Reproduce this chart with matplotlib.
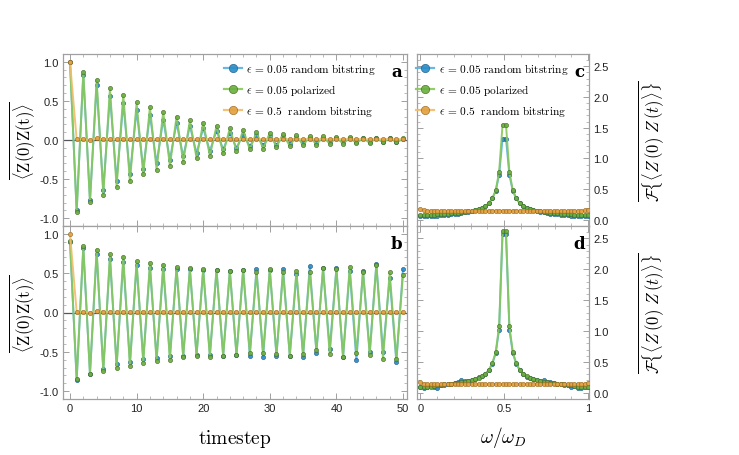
import matplotlib
matplotlib.use('Agg')
import matplotlib.pyplot as plt
import numpy as np
from matplotlib.ticker import MultipleLocator, FixedLocator, FormatStrFormatter

plt.rcParams['font.family'] = ['Liberation Sans', 'DejaVu Sans']
plt.rcParams['mathtext.fontset'] = 'cm'

# time series data
t = np.arange(51)

a_blue = [1.0, -0.90, 0.83, -0.77, 0.70, -0.635, 0.56, -0.52, 0.47, -0.44, 0.38, -0.365, 0.32,
          -0.30, 0.26, -0.25, 0.22, -0.21, 0.18, -0.17, 0.15, -0.14, 0.12, -0.12, 0.09, -0.10,
          0.07, -0.08, 0.06, -0.07, 0.05, -0.06, 0.05, -0.05, 0.04, -0.04, 0.03, -0.04, 0.03,
          -0.03, 0.02, -0.03, 0.02, -0.03, 0.02, -0.02, 0.02, -0.02, 0.02, -0.02, 0.01]
a_green = [1.0, -0.92, 0.87, -0.79, 0.77, -0.70, 0.66, -0.60, 0.58, -0.53, 0.48, -0.44, 0.42,
           -0.38, 0.36, -0.33, 0.30, -0.28, 0.25, -0.23, 0.22, -0.20, 0.18, -0.17, 0.15, -0.14,
           0.13, -0.12, 0.10, -0.11, 0.09, -0.09, 0.08, -0.08, 0.06, -0.07, 0.05, -0.06, 0.05,
           -0.05, 0.04, -0.05, 0.04, -0.04, 0.03, -0.04, 0.03, -0.03, 0.03, -0.03, 0.02]
a_orange = [1.0, 0.01, 0.01, 0.0, 0.02, 0.01, 0.01, 0.01, 0.01, 0.01, 0.01, 0.01, 0.01, 0.01,
            0.01, 0.01, 0.01, 0.01, 0.01, 0.01, 0.01, 0.01, 0.01, 0.01, 0.01, 0.01, 0.01, 0.01,
            0.01, 0.01, 0.01, 0.01, 0.01, 0.01, 0.01, 0.01, 0.01, 0.01, 0.01, 0.01, 0.01, 0.01,
            0.01, 0.01, 0.01, 0.01, 0.01, 0.01, 0.01, 0.01, 0.01]

b_blue = [0.90, -0.86, 0.82, -0.78, 0.75, -0.72, 0.68, -0.66, 0.64, -0.63, 0.60, -0.59, 0.57,
          -0.58, 0.55, -0.55, 0.55, -0.55, 0.55, -0.54, 0.54, -0.54, 0.54, -0.55, 0.53, -0.54,
          0.54, -0.55, 0.55, -0.56, 0.54, -0.55, 0.55, -0.55, 0.49, -0.56, 0.59, -0.51, 0.56,
          -0.46, 0.56, -0.57, 0.53, -0.61, 0.53, -0.50, 0.62, -0.50, 0.44, -0.63, 0.55]
b_green = [0.91, -0.84, 0.84, -0.78, 0.80, -0.75, 0.74, -0.70, 0.71, -0.68, 0.65, -0.64, 0.63,
           -0.62, 0.61, -0.60, 0.58, -0.57, 0.56, -0.55, 0.55, -0.56, 0.54, -0.55, 0.53, -0.54,
           0.54, -0.51, 0.51, -0.51, 0.55, -0.53, 0.51, -0.55, 0.53, -0.53, 0.52, -0.48, 0.56,
           -0.53, 0.55, -0.56, 0.58, -0.52, 0.52, -0.54, 0.60, -0.59, 0.51, -0.59, 0.48]
b_orange = a_orange

# spectra data
freq = np.arange(50) / 49

c_green = [0.08, 0.08, 0.08, 0.085, 0.085, 0.09, 0.09, 0.095, 0.10, 0.105, 0.11, 0.115, 0.12,
           0.13, 0.14, 0.15, 0.165, 0.18, 0.20, 0.23, 0.27, 0.35, 0.48, 0.78, 1.55,
           1.55, 0.78, 0.48, 0.35, 0.27, 0.23, 0.20, 0.18, 0.165, 0.15, 0.14, 0.13, 0.12,
           0.115, 0.11, 0.105, 0.10, 0.095, 0.09, 0.09, 0.085, 0.085, 0.08, 0.08, 0.08]
c_blue = [0.06, 0.06, 0.065, 0.065, 0.07, 0.07, 0.075, 0.08, 0.085, 0.09, 0.095, 0.10, 0.11,
          0.12, 0.13, 0.14, 0.155, 0.17, 0.19, 0.22, 0.27, 0.35, 0.47, 0.73, 1.32,
          1.32, 0.73, 0.47, 0.35, 0.27, 0.22, 0.19, 0.17, 0.155, 0.14, 0.13, 0.12, 0.11,
          0.10, 0.095, 0.09, 0.085, 0.08, 0.075, 0.07, 0.07, 0.065, 0.065, 0.06, 0.06]
c_orange = [0.17, 0.155, 0.15, 0.15, 0.15, 0.148, 0.148, 0.148, 0.148, 0.148, 0.148, 0.148,
            0.148, 0.148, 0.148, 0.148, 0.148, 0.148, 0.148, 0.148, 0.148, 0.148, 0.148, 0.148,
            0.148, 0.148, 0.148, 0.148, 0.148, 0.148, 0.148, 0.148, 0.148, 0.148, 0.148, 0.148,
            0.148, 0.148, 0.148, 0.148, 0.148, 0.148, 0.148, 0.148, 0.15, 0.15, 0.15, 0.15,
            0.155, 0.165]

d_green = [0.10, 0.09, 0.09, 0.10, 0.11, 0.12, 0.13, 0.14, 0.145, 0.15, 0.155, 0.16, 0.17,
           0.18, 0.19, 0.20, 0.23, 0.24, 0.28, 0.31, 0.37, 0.475, 0.66, 1.08, 2.62,
           2.62, 1.08, 0.66, 0.475, 0.37, 0.30, 0.28, 0.24, 0.22, 0.20, 0.19, 0.18, 0.17,
           0.16, 0.16, 0.15, 0.145, 0.14, 0.13, 0.12, 0.11, 0.09, 0.09, 0.10, 0.10]
d_blue = [0.09, 0.08, 0.09, 0.11, 0.10, 0.07, 0.12, 0.13, 0.14, 0.15, 0.16, 0.17, 0.20,
          0.19, 0.19, 0.21, 0.22, 0.25, 0.27, 0.31, 0.37, 0.47, 0.64, 1.02, 2.57,
          2.57, 1.02, 0.64, 0.47, 0.37, 0.31, 0.26, 0.24, 0.23, 0.20, 0.19, 0.20, 0.17,
          0.18, 0.16, 0.15, 0.14, 0.13, 0.12, 0.10, 0.11, 0.07, 0.08, 0.10, 0.09]
d_orange = [0.17, 0.15, 0.145, 0.14, 0.14, 0.14, 0.14, 0.14, 0.14, 0.14, 0.14, 0.14, 0.14,
            0.14, 0.14, 0.14, 0.14, 0.14, 0.14, 0.14, 0.14, 0.14, 0.14, 0.14, 0.14, 0.14,
            0.14, 0.14, 0.14, 0.14, 0.14, 0.14, 0.14, 0.14, 0.14, 0.14, 0.14, 0.14, 0.14,
            0.14, 0.14, 0.14, 0.14, 0.14, 0.14, 0.14, 0.145, 0.15, 0.15, 0.16]

labels = [r'$\epsilon\,=\,0.05\ \mathrm{random\ bitstring}$',
          r'$\epsilon\,=\,0.05\ \mathrm{polarized}$',
          r'$\epsilon\,=\,0.5\ \ \mathrm{random\ bitstring}$']

# (line colour, marker face, marker edge)
styles = [('#5ab0e0', '#2b8cc8', '#1d5f8c'),
          ('#86c85a', '#6cae3f', '#456f23'),
          ('#f2bc68', '#e3a040', '#9a6a1e')]

frame_col = '#a0a0a0'

fig = plt.figure(figsize=(7.39, 4.56), dpi=100)
L1, W1 = 63 / 739, 344 / 739
L2, W2 = 417 / 739, 172 / 739
top, mid, bot = 1 - 55 / 456, 1 - 227 / 456, 1 - 400 / 456
ax_a = fig.add_axes([L1, mid, W1, top - mid])
ax_b = fig.add_axes([L1, bot, W1, mid - bot])
ax_c = fig.add_axes([L2, mid, W2, top - mid])
ax_d = fig.add_axes([L2, bot, W2, mid - bot])


def draw(ax, x, series):
    handles = []
    # orange at the back, then blue, green on top
    for i in [2, 0, 1]:
        lc, fc, ec = styles[i]
        h, = ax.plot(x, series[i], '-', color=lc, lw=1.4, alpha=0.9,
                     marker='o', ms=3.0, mfc=fc, mec=ec, mew=0.5, zorder=3 + i)
        handles.append((i, h))
    return [h for _, h in sorted(handles)]


def style_axes(ax):
    for sp in ax.spines.values():
        sp.set_color(frame_col)
        sp.set_linewidth(0.9)
    ax.tick_params(which='both', direction='in', color=frame_col, labelsize=8,
                   labelcolor='#222222', top=True, right=True, pad=3)
    ax.tick_params(which='major', length=4, width=0.7)
    ax.tick_params(which='minor', length=2, width=0.5)


def add_legend(ax, hs, **kw):
    leg = ax.legend(hs, labels, frameon=False, fontsize=8.2, markerscale=2.0,
                    handlelength=1.6, handletextpad=0.4, labelspacing=0.55,
                    borderaxespad=0.2, **kw)
    for lh in leg.get_lines():
        lh.set_linewidth(1.6)


for ax, (sb, sg, so), tag in [(ax_a, (a_blue, a_green, a_orange), 'a'),
                              (ax_b, (b_blue, b_green, b_orange), 'b')]:
    ax.axhline(0, color='#555555', lw=0.9, zorder=2)
    hs = draw(ax, t, [sb, sg, so])
    ax.set_xlim(-1.05, 50.6)
    ax.set_ylim(-1.1, 1.1)
    ax.xaxis.set_major_locator(MultipleLocator(10))
    ax.xaxis.set_minor_locator(MultipleLocator(2))
    ax.yaxis.set_major_locator(MultipleLocator(0.5))
    ax.yaxis.set_minor_locator(MultipleLocator(0.1))
    ax.yaxis.set_major_formatter(FormatStrFormatter('%.1f'))
    style_axes(ax)
    ax.tick_params(labelright=False)
    ax.set_ylabel(r'$\overline{\langle \mathrm{Z(0)Z(t)}\rangle}$', fontsize=12, labelpad=2)
    ax.text(0.985, 0.95, tag, transform=ax.transAxes, ha='right', va='top',
            fontsize=12, fontweight='bold', family='DejaVu Serif')
    if tag == 'a':
        ax.tick_params(labelbottom=False)
        add_legend(ax, hs, loc='upper right', bbox_to_anchor=(0.93, 1.0))

ax_b.set_xlabel(r'$\mathrm{timestep}$', fontsize=14, labelpad=10)

for ax, (sb, sg, so), tag in [(ax_c, (c_blue, c_green, c_orange), 'c'),
                              (ax_d, (d_blue, d_green, d_orange), 'd')]:
    hs = draw(ax, freq, [sb, sg, so])
    ax.set_xlim(-0.02, 1.005)
    ax.set_ylim(-0.1, 2.7)
    ax.xaxis.set_major_locator(FixedLocator([0, 0.5, 1]))
    ax.xaxis.set_minor_locator(MultipleLocator(0.1))
    ax.xaxis.set_major_formatter(FormatStrFormatter('%g'))
    ax.yaxis.set_major_locator(MultipleLocator(0.5))
    ax.yaxis.set_minor_locator(MultipleLocator(0.1))
    ax.yaxis.set_major_formatter(FormatStrFormatter('%.1f'))
    style_axes(ax)
    ax.tick_params(labelleft=False, labelright=True)
    ax.yaxis.set_label_position('right')
    ax.set_ylabel(r'$\overline{\mathcal{F}\{\langle Z\,(0)\ Z\,(t)\rangle\}}$',
                  fontsize=12, labelpad=20, rotation=90)
    ax.text(0.975, 0.95, tag, transform=ax.transAxes, ha='right', va='top',
            fontsize=12, fontweight='bold', family='DejaVu Serif')
    if tag == 'c':
        ax.tick_params(labelbottom=False)
        add_legend(ax, hs, loc='upper left', bbox_to_anchor=(-0.045, 1.0))

ax_d.set_xlabel(r'$\omega/\omega_D$', fontsize=14, labelpad=8)

fig.savefig('out.png', dpi=100)
